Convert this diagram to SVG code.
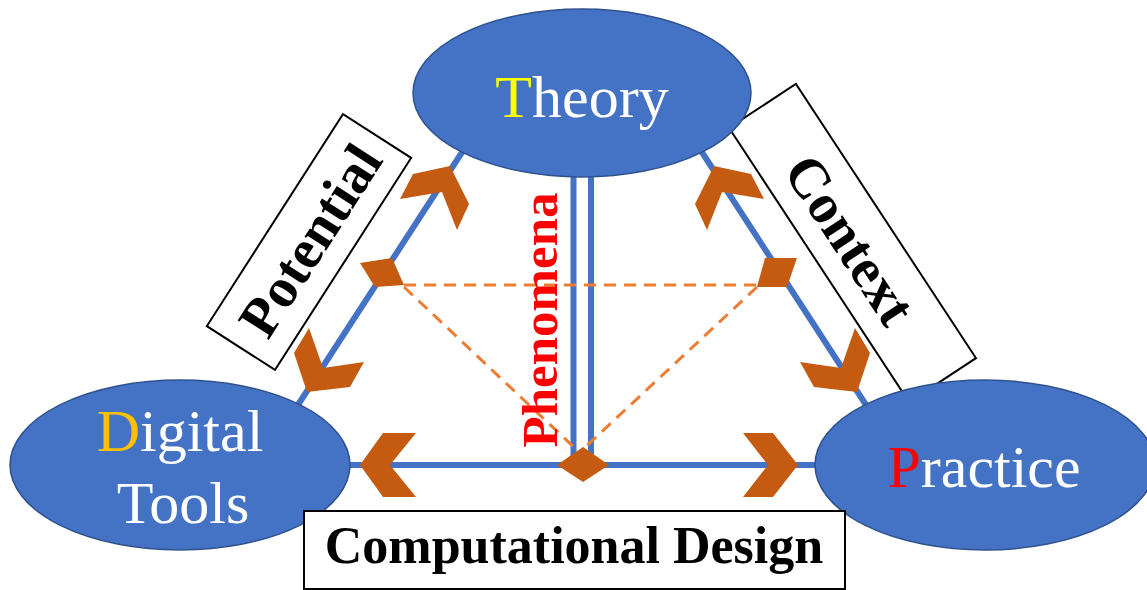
<svg xmlns="http://www.w3.org/2000/svg" width="1147" height="590" viewBox="0 0 1147 590">
  <style>
    .node { fill: #4472C4; stroke: #2F528F; stroke-width: 1.5; }
    .ntext { font-family: "Liberation Serif", "Times New Roman", serif; font-size: 60px; fill: #FFFFFF; }
    .link { stroke: #4472C4; stroke-width: 6; fill: none; }
    .dash { stroke: #ED7D31; stroke-width: 3; stroke-dasharray: 12 8; fill: none; }
    .chev { fill: #C55A11; }
    .box { fill: #FFFFFF; stroke: #000000; stroke-width: 2; }
    .btext { font-family: "Liberation Serif", "Times New Roman", serif; font-weight: bold; fill: #000000; }
  </style>
  <rect width="1147" height="590" fill="#FFFFFF"/>

  <!-- connectors: triangle edges, double link and dashed guides -->
  <g id="connectors">
    <line class="link" x1="470" y1="140" x2="296" y2="408"/>
    <line class="link" x1="694" y1="140" x2="868" y2="408"/>
    <line class="link" x1="340" y1="465" x2="825" y2="465"/>
    <line class="link" x1="573.5" y1="170" x2="573.5" y2="456"/>
    <line class="link" x1="591" y1="170" x2="591" y2="456"/>
    <line class="dash" x1="404" y1="285" x2="757" y2="285"/>
    <line class="dash" x1="404" y1="287" x2="579" y2="452"/>
    <line class="dash" x1="757" y1="287" x2="580" y2="452"/>
  </g>

  <!-- side labels -->
  <g id="potential">
    <g transform="translate(309 242) rotate(-57.3)">
      <rect class="box" x="-126" y="-40.5" width="252" height="81"/>
      <text class="btext" x="2" y="19" font-size="56" text-anchor="middle">Potential</text>
    </g>
  </g>
  <g id="context">
    <g transform="translate(852.5 243) rotate(56.7)">
      <rect class="box" x="-164" y="-40" width="328" height="80"/>
      <text class="btext" x="-4" y="19" font-size="56" text-anchor="middle">Context</text>
    </g>
  </g>

  <!-- vertical label on the double link -->
  <g id="phenomena">
    <text transform="translate(557 320) rotate(-90)" font-family="'Liberation Serif', 'Times New Roman', serif" font-weight="bold" font-size="51" fill="#FF0000" text-anchor="middle">Phenomena</text>
  </g>

  <!-- main nodes -->
  <g id="theory">
    <ellipse class="node" cx="582" cy="93" rx="169" ry="84"/>
    <text class="ntext" x="582" y="117" text-anchor="middle"><tspan fill="#FFFF00">T</tspan>heory</text>
  </g>
  <g id="digital-tools">
    <ellipse class="node" cx="180" cy="465" rx="170" ry="85"/>
    <text class="ntext" x="180" y="451" text-anchor="middle"><tspan fill="#FFC000">D</tspan>igital</text>
    <text class="ntext" x="183" y="523" text-anchor="middle">Tools</text>
  </g>
  <g id="practice">
    <ellipse class="node" cx="985" cy="465" rx="170" ry="85"/>
    <text class="ntext" x="984" y="487" text-anchor="middle"><tspan fill="#FF0000">P</tspan>ractice</text>
  </g>

  <!-- chevron arrowheads and junction markers -->
  <g id="markers">
    <polygon class="chev" points="400,199 413,174 450,166 469,204 457,230 442,192"/>
    <polygon class="chev" points="309,328 323,368 364,362 350,387 307,392 294,353"/>
    <polygon class="chev" points="764,199 751,174 714,166 695,204 707,230 722,192"/>
    <polygon class="chev" points="855,328 841,368 800,362 814,387 857,392 870,353"/>
    <polygon class="chev" points="416,433 383,433 360,465 383,497 416,497 390,465"/>
    <polygon class="chev" points="743,433 773,433 798,465 773,497 743,497 768,465"/>
    <polygon class="chev" points="360,263 392,258 404,285 375,287"/>
    <polygon class="chev" points="765,258 797,258 787,287 757,287"/>
    <polygon class="chev" points="557,465 583,447 609,465 583,482"/>
  </g>

  <!-- bottom label -->
  <g id="computational-design">
    <rect class="box" x="304" y="511" width="541" height="78"/>
    <text class="btext" x="574" y="563" font-size="52" text-anchor="middle">Computational Design</text>
  </g>
</svg>
